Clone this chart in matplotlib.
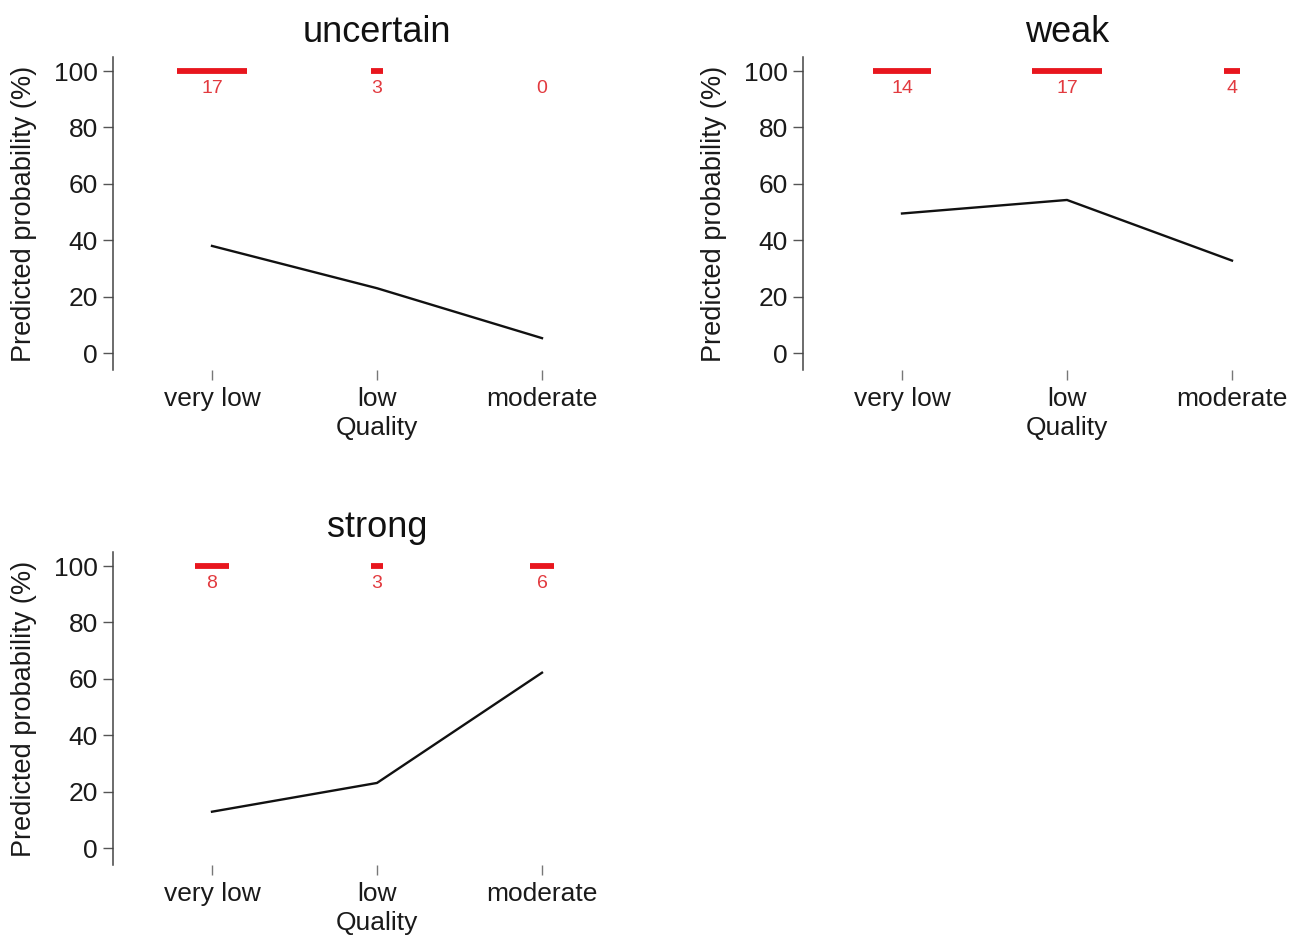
import matplotlib
matplotlib.use("Agg")
import matplotlib.pyplot as plt
import numpy as np

plt.rcParams['font.family'] = ['Liberation Sans', 'DejaVu Sans']

quality = ['very low', 'low', 'moderate']
titles = ['uncertain', 'weak', 'strong']
# predicted probability (%) per quality level
prob_uncertain = [38.0, 23.0, 5.3]
prob_weak = [49.5, 54.3, 32.8]
prob_strong = [12.9, 23.1, 62.2]
# number of studies per quality level (red bars)
n_uncertain = [17, 3, 0]
n_weak = [14, 17, 4]
n_strong = [8, 3, 6]

probs = [prob_uncertain, prob_weak, prob_strong]
counts = [n_uncertain, n_weak, n_strong]

fig = plt.figure(figsize=(12.92, 9.35), dpi=100)
W, H = 1292.0, 935.0
# axes boxes in pixels: left, top(of ylim max), width, height
boxes = [(113, 57, 528, 313), (803, 57, 528, 313), (113, 552, 528, 313)]

red = '#e8161e'
x = np.arange(1, 4)
for k in range(3):
    l, t, w, h = boxes[k]
    ax = fig.add_axes([l / W, 1 - (t + h) / H, w / W, h / H])
    ax.plot(x, probs[k], color='#111111', lw=1.7)
    for i in range(3):
        c = counts[k][i]
        if c > 0:
            half = c * 0.0126
            ax.plot([x[i] - half, x[i] + half], [100, 100], color=red, lw=4.2,
                    solid_capstyle='butt')
        ax.text(x[i], 94.0, str(c), color='#e23a3f', fontsize=14,
                ha='center', va='center')
    ax.set_xlim(0.4, 3.6)
    ax.set_ylim(-6, 105)
    for s in ['top', 'right', 'bottom']:
        ax.spines[s].set_visible(False)
    ax.spines['left'].set_color('#444444')
    ax.spines['left'].set_linewidth(1.1)
    ax.set_xticks(x)
    ax.set_xticklabels(quality)
    ax.set_yticks([0, 20, 40, 60, 80, 100])
    ax.tick_params(axis='x', length=7, width=1, color='#777777', pad=5,
                   labelsize=19, labelcolor='#1a1a1a')
    ax.tick_params(axis='y', length=7, width=1, color='#555555', pad=4,
                   labelsize=19, labelcolor='#1a1a1a')
    ax.set_ylabel('Predicted probability (%)', fontsize=19.5, color='#1a1a1a')
    ax.yaxis.set_label_coords(-0.143, 0.5)
    ax.set_xlabel('Quality', fontsize=19, color='#1a1a1a')
    ax.xaxis.set_label_coords(0.5, -0.148)
    ax.set_title(titles[k], fontsize=26, pad=11, color='#111111')

fig.savefig('out.png', dpi=100)
